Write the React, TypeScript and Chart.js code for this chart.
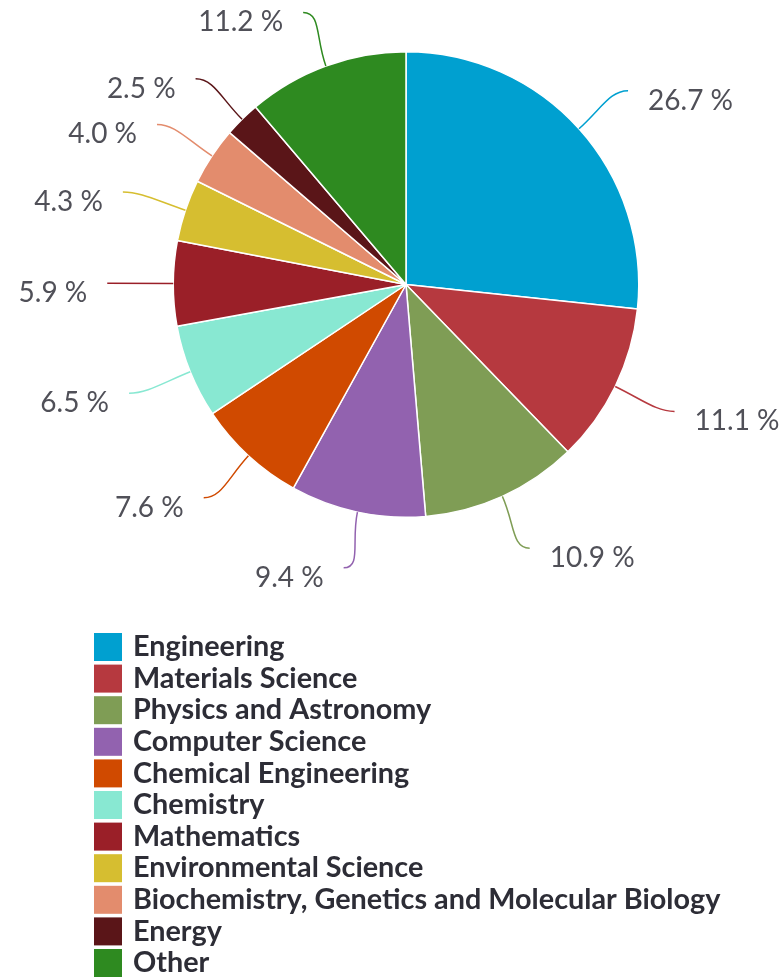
import React, { useEffect, useRef } from 'react';
import { Chart, registerables } from 'chart.js';

Chart.register(...registerables);

const categories: string[] = [
  'Engineering',
  'Materials Science',
  'Physics and Astronomy',
  'Computer Science',
  'Chemical Engineering',
  'Chemistry',
  'Mathematics',
  'Environmental Science',
  'Biochemistry, Genetics and Molecular Biology',
  'Energy',
  'Other',
];

const shares: number[] = [26.7, 11.1, 10.9, 9.4, 7.6, 6.5, 5.9, 4.3, 4.0, 2.5, 11.2];

const colors: string[] = [
  '#00A0D0',
  '#B6393F',
  '#7F9D55',
  '#9262AF',
  '#D04A00',
  '#88E8D2',
  '#9A1F28',
  '#D6BE30',
  '#E38C6D',
  '#5A1518',
  '#2E8A20',
];

const labelPlugin = {
  id: 'pieLabels',
  afterDatasetsDraw(chart: any) {
    const ctx = chart.ctx as CanvasRenderingContext2D;
    const meta = chart.getDatasetMeta(0);
    meta.data.forEach((arc: any, i: number) => {
      const { x, y, startAngle, endAngle, outerRadius } = arc.getProps(
        ['x', 'y', 'startAngle', 'endAngle', 'outerRadius'],
        true
      );
      const mid = (startAngle + endAngle) / 2;
      const cos = Math.cos(mid);
      const sin = Math.sin(mid);
      const ex = x + outerRadius * cos;
      const ey = y + outerRadius * sin;
      const lx = x + (outerRadius + 66) * cos;
      const ly = y + (outerRadius + 57) * sin;
      const right = cos >= 0;
      const dir = right ? 1 : -1;
      ctx.save();
      ctx.strokeStyle = colors[i];
      ctx.lineWidth = 1.5;
      ctx.beginPath();
      ctx.moveTo(ex, ey);
      ctx.bezierCurveTo(ex + cos * 30, ey + sin * 30, lx - dir * 18, ly, lx, ly);
      ctx.stroke();
      ctx.fillStyle = '#505058';
      ctx.font = '28px Lato';
      ctx.textAlign = right ? 'left' : 'right';
      ctx.textBaseline = 'middle';
      ctx.fillText(`${shares[i].toFixed(1)} %`, lx + dir * 20, ly + 10);
      ctx.restore();
    });
  },
};

const legendPlugin = {
  id: 'columnLegend',
  afterDraw(chart: any) {
    const ctx = chart.ctx as CanvasRenderingContext2D;
    const startY = 647;
    const pitch = 31.6;
    ctx.save();
    categories.forEach((name, i) => {
      const cy = startY + i * pitch;
      ctx.fillStyle = colors[i];
      ctx.fillRect(94, cy - 14, 28, 28);
      ctx.fillStyle = '#2d2d36';
      ctx.font = 'bold 28.8px Lato';
      ctx.textAlign = 'left';
      ctx.textBaseline = 'middle';
      ctx.fillText(name, 133, cy);
    });
    ctx.restore();
  },
};

export default function App() {
  const canvasRef = useRef<HTMLCanvasElement | null>(null);

  useEffect(() => {
    if (!canvasRef.current) return;
    const chart = new Chart(canvasRef.current, {
      type: 'pie',
      data: {
        labels: categories,
        datasets: [
          {
            data: shares,
            backgroundColor: colors,
            borderColor: '#ffffff',
            borderWidth: 1.5,
          },
        ],
      },
      options: {
        responsive: false,
        animation: false,
        layout: {
          padding: { left: 172, right: 142, top: 51, bottom: 460 },
        },
        plugins: {
          legend: { display: false },
          tooltip: { enabled: false },
        },
      },
      plugins: [labelPlugin, legendPlugin],
    });
    return () => chart.destroy();
  }, []);

  return (
    <div style={{ position: 'fixed', left: 0, top: 0, width: 782, height: 978, background: '#fff' }}>
      <canvas ref={canvasRef} width={782} height={978} style={{ display: 'block' }} />
    </div>
  );
}
